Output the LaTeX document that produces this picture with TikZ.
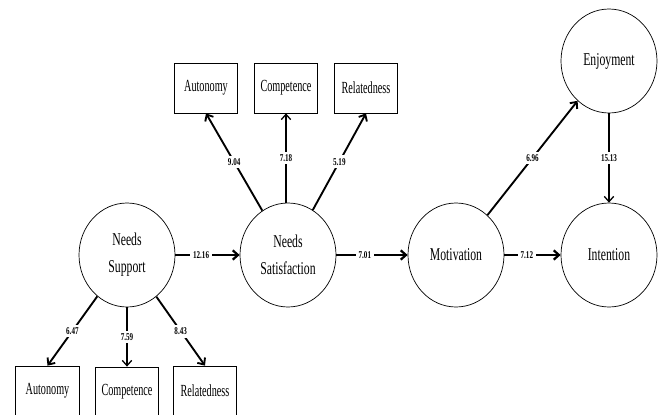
\documentclass[tikz,border=0pt]{standalone}
\usepackage{fontspec}
\usepackage{tikz}
\usetikzlibrary{arrows.meta,shapes.geometric}

\newfontfamily\latentfont[FakeStretch=0.65]{Liberation Serif}
\newfontfamily\itemfont[FakeStretch=0.6]{Liberation Serif}
\newfontfamily\coeffont[FakeStretch=0.68]{Liberation Serif}

\begin{document}
\begin{tikzpicture}[x=0.03cm,y=-0.03cm,
    latent/.style={ellipse,draw,line width=0.6pt,inner sep=0pt,
        minimum width=2.88cm,minimum height=3.12cm,align=center,
        font=\latentfont\fontsize{15.4}{23}\selectfont},
    item/.style={rectangle,draw,line width=0.6pt,inner sep=0pt,
        minimum width=1.91cm,minimum height=1.5cm,
        font=\itemfont\fontsize{14.5}{17}\selectfont},
    coef/.style={fill=white,inner sep=2.5pt,
        font=\coeffont\bfseries\fontsize{8.9}{10}\selectfont},
    path/.style={line width=1.6pt,-{Straight Barb[length=4.5pt,width=8pt]}},
    hpath/.style={path,line width=1.9pt},
    vpath/.style={path,line width=1.1pt}]

    \useasboundingbox (0,0) rectangle (664,414);

    % Latent variables
    \node[latent] (support)    at (127,255) {Needs\\Support};
    \node[latent] (satisfy)    at (288,255) {Needs\\Satisfaction};
    \node[latent] (motivation) at (456,255) {Motivation};
    \node[latent] (intention)  at (609,255) {Intention};
    \node[latent] (enjoyment)  at (609,61)  {Enjoyment};

    % Indicators of needs satisfaction (top)
    \node[item] (topAut) at (206,88) {Autonomy};
    \node[item] (topCom) at (286,88) {Competence};
    \node[item] (topRel) at (366,88) {Relatedness};

    % Indicators of needs support (bottom)
    \node[item] (botAut) at (47.5,391) {Autonomy};
    \node[item] (botCom) at (127,392) {Competence};
    \node[item] (botRel) at (205,391) {Relatedness};

    % Structural paths
    \draw[hpath] (support) -- node[coef,pos=0.4] {12.16} (satisfy);
    \draw[hpath] (satisfy) -- node[coef,pos=0.4] {7.01} (motivation);
    \draw[hpath] (motivation) -- node[coef,pos=0.4] {7.12} (intention);
    \draw[path] (motivation) -- node[coef] {6.96} (enjoyment);
    \draw[vpath] (enjoyment) -- node[coef] {15.13} (intention);

    % Loadings
    \draw[path] (satisfy) -- node[coef] {9.04} (topAut.south);
    \draw[vpath] (satisfy.north -| topCom.south) -- node[coef] {7.18} (topCom.south);
    \draw[path] (satisfy) -- node[coef] {5.19} (topRel.south);
    \draw[path] (support) -- node[coef] {6.47} (botAut.north);
    \draw[vpath] (support) -- node[coef] {7.59} (botCom.north);
    \draw[path] (support) -- node[coef] {8.43} (botRel.north);
\end{tikzpicture}
\end{document}
